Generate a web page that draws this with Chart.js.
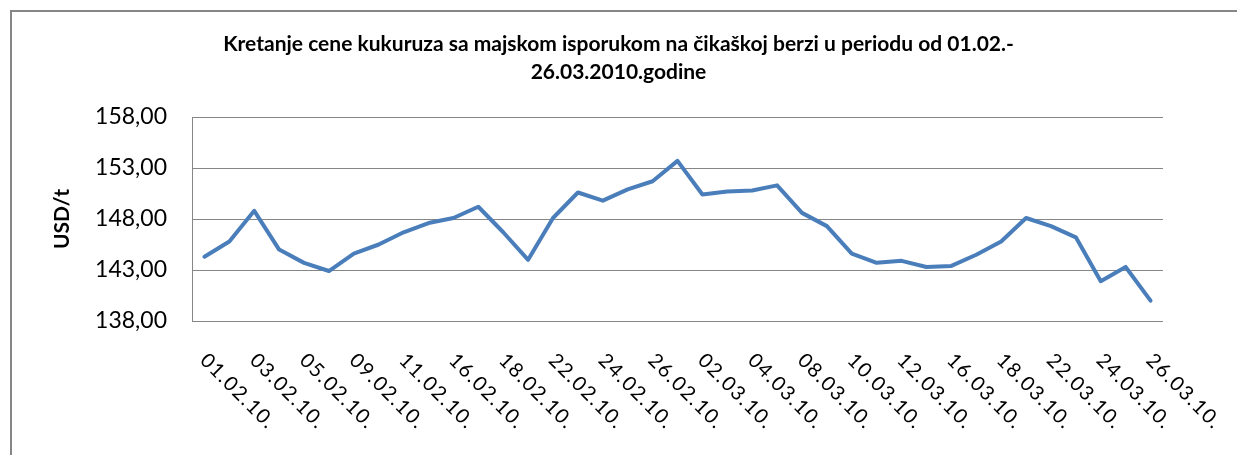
<!DOCTYPE html>
<html>
<head>
<meta charset="utf-8">
<script src="https://cdn.jsdelivr.net/npm/chart.js@4/dist/chart.umd.min.js"></script>
<style>
  html, body { margin: 0; padding: 0; background: #ffffff; }
  #wrap { position: relative; width: 1237px; height: 455px; }
  canvas { display: block; }
</style>
</head>
<body>
<div id="wrap"><canvas id="c" width="1237" height="455"></canvas></div>
<script>
// ---- data ----
const categories = [
  "01.02.10.","02.02.10.","03.02.10.","04.02.10.","05.02.10.","08.02.10.","09.02.10.","10.02.10.",
  "11.02.10.","12.02.10.","16.02.10.","17.02.10.","18.02.10.","19.02.10.","22.02.10.","23.02.10.",
  "24.02.10.","25.02.10.","26.02.10.","01.03.10.","02.03.10.","03.03.10.","04.03.10.","05.03.10.",
  "08.03.10.","09.03.10.","10.03.10.","11.03.10.","12.03.10.","15.03.10.","16.03.10.","17.03.10.",
  "18.03.10.","19.03.10.","22.03.10.","23.03.10.","24.03.10.","25.03.10.","26.03.10."
];
const prices = [
  144.3, 145.8, 148.8, 145.0, 143.7, 142.9, 144.6, 145.5,
  146.7, 147.6, 148.1, 149.2, 146.7, 144.0, 148.1, 150.6,
  149.8, 150.9, 151.7, 153.7, 150.4, 150.7, 150.8, 151.3,
  148.6, 147.3, 144.6, 143.7, 143.9, 143.3, 143.4, 144.5,
  145.8, 148.1, 147.3, 146.2, 141.9, 143.3, 140.0
];
const yTicks = [138, 143, 148, 153, 158];
const titleLines = ["Kretanje cene kukuruza sa majskom isporukom na čikaškoj berzi u periodu od 01.02.-", "26.03.2010.godine"];
const yAxisTitle = "USD/t";

// ---- plugins ----
const framePlugin = {
  id: 'frame',
  beforeDraw(chart) {
    const ctx = chart.ctx;
    ctx.save();
    ctx.strokeStyle = '#868686';
    ctx.lineWidth = 2;
    ctx.beginPath();
    ctx.moveTo(11, chart.height);
    ctx.lineTo(11, 11);
    ctx.lineTo(chart.width, 11);
    ctx.stroke();
    ctx.restore();
  }
};

const slantLabels = {
  id: 'slantLabels',
  afterDraw(chart) {
    const xs = chart.scales.x;
    const ctx = chart.ctx;
    ctx.save();
    ctx.fillStyle = '#000000';
    ctx.font = '20px Lato';
    try { ctx.letterSpacing = '1.5px'; } catch (e) {}
    ctx.textAlign = 'left';
    ctx.textBaseline = 'middle';
    categories.forEach((lab, i) => {
      if (i % 2 !== 0) return;
      const x = xs.getPixelForValue(i) - 1;
      const y = chart.chartArea.bottom + 36;
      ctx.save();
      ctx.translate(x, y);
      ctx.rotate(Math.PI / 4);
      ctx.fillText(lab, 0, 0);
      ctx.restore();
    });
    try { ctx.letterSpacing = '0px'; } catch (e) {}
    ctx.restore();
  }
};

new Chart(document.getElementById('c'), {
  type: 'line',
  data: {
    labels: categories,
    datasets: [{
      data: prices,
      borderColor: '#4A7EBB',
      borderWidth: 4,
      pointRadius: 0,
      tension: 0,
      fill: false,
      borderJoinStyle: 'round',
      borderCapStyle: 'round'
    }]
  },
  options: {
    responsive: false,
    devicePixelRatio: 1,
    animation: false,
    layout: { padding: { left: 0, right: 0, top: 0, bottom: 0 } },
    plugins: {
      legend: { display: false },
      tooltip: { enabled: false },
      title: {
        display: true,
        text: titleLines,
        color: '#000000',
        font: { family: 'Lato', size: 21, weight: 'bold', lineHeight: 28 / 21 },
        padding: { top: 30, bottom: 31 }
      }
    },
    scales: {
      x: {
        type: 'category',
        offset: true,
        grid: { display: false },
        border: { display: false },
        ticks: { display: false },
        afterFit(scale) { scale.height = 134; }
      },
      y: {
        min: 138,
        max: 158,
        afterBuildTicks(scale) { scale.ticks = yTicks.map(v => ({ value: v })); },
        grid: { color: '#868686', lineWidth: 1, drawTicks: false },
        border: { display: true, color: '#868686', width: 1 },
        ticks: {
          padding: 25,
          color: '#000000',
          font: { family: 'Lato', size: 23 },
          callback: v => Number(v).toFixed(2).replace('.', ',')
        },
        title: {
          display: true,
          text: yAxisTitle,
          color: '#000000',
          font: { family: 'Lato', size: 21, weight: 'bold', lineHeight: 1.2 },
          padding: { top: 50, bottom: 0 }
        },
        afterFit(scale) { scale.width = 192; }
      },
      yRight: {
        position: 'right',
        min: 138,
        max: 158,
        grid: { display: false, drawOnChartArea: false },
        border: { display: false },
        ticks: { display: false },
        afterFit(scale) { scale.width = 74; }
      }
    }
  },
  plugins: [framePlugin, slantLabels]
});
</script>
</body>
</html>
